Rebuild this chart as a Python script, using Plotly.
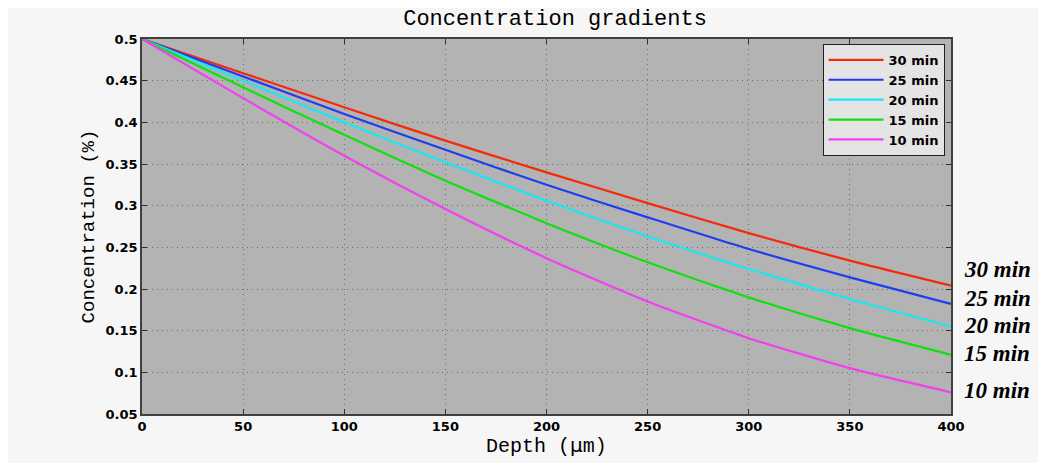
import plotly.graph_objects as go

depth = [0, 50, 100, 150, 200, 250, 300, 350, 400]
c30 = [0.500, 0.459, 0.418, 0.378, 0.340, 0.303, 0.267, 0.234, 0.204]
c25 = [0.500, 0.455, 0.410, 0.367, 0.325, 0.286, 0.248, 0.214, 0.182]
c20 = [0.500, 0.450, 0.400, 0.352, 0.306, 0.263, 0.224, 0.188, 0.155]
c15 = [0.500, 0.442, 0.385, 0.330, 0.279, 0.232, 0.190, 0.153, 0.121]
c10 = [0.500, 0.429, 0.360, 0.296, 0.237, 0.185, 0.141, 0.105, 0.076]

names = ["30 min", "25 min", "20 min", "15 min", "10 min"]
series = [c30, c25, c20, c15, c10]
colors = ["#f52a0a", "#1f3df0", "#18e8f0", "#10e010", "#f040f0"]
label_y = [0.223, 0.189, 0.156, 0.123, 0.078]

xticks = [0, 50, 100, 150, 200, 250, 300, 350, 400]
yticks = [0.05, 0.1, 0.15, 0.2, 0.25, 0.3, 0.35, 0.4, 0.45, 0.5]
ytick_text = ["0.05", "0.1", "0.15", "0.2", "0.25", "0.3", "0.35", "0.4", "0.45", "0.5"]

fig = go.Figure()
for n, s, c in zip(names, series, colors):
    fig.add_trace(go.Scatter(x=depth, y=s, name=n, mode="lines",
                             line=dict(color=c, width=2.2, shape="spline", smoothing=0.6)))

for n, yv in zip(names, label_y):
    fig.add_annotation(x=1.013, xref="paper", y=yv, yref="y", text=n, showarrow=False,
                       xanchor="left", yanchor="middle",
                       font=dict(family="Liberation Serif", size=23, color="black",
                                 style="italic", weight="bold"))

fig.add_annotation(x=0.5, xref="paper", y=-0.046, yref="paper",
                   text="Depth (<span style='font-family:DejaVu Sans'>μ</span>m)",
                   showarrow=False, xanchor="center", yanchor="top",
                   font=dict(family="Liberation Mono", size=20, color="black"))

axis_common = dict(showline=True, linecolor="#404040", linewidth=1.5, mirror="ticks",
                   ticks="inside", ticklen=5, tickcolor="#303030",
                   showgrid=True, gridcolor="#6e6e6e", griddash="1px,4px", gridwidth=1,
                   zeroline=False,
                   tickfont=dict(family="DejaVu Sans", size=13, color="black", weight="bold"))

fig.update_xaxes(range=[0, 400], tickvals=xticks, ticklabelstandoff=0, **axis_common)
fig.update_yaxes(range=[0.05, 0.5], tickvals=yticks, ticktext=ytick_text,
                 title=dict(text="Concentration (%)",
                            font=dict(family="Liberation Mono", size=19, color="black"), standoff=6),
                 **axis_common)

fig.update_layout(
    width=1046, height=463,
    margin=dict(l=134, r=103, t=31, b=57),
    paper_bgcolor="#f6f6f6", plot_bgcolor="#b3b3b3",
    title=dict(text="Concentration gradients", x=0.523, xanchor="center", y=0.979, yanchor="middle",
               font=dict(family="Liberation Mono", size=22, color="black")),
    showlegend=True,
    legend=dict(x=0.992, xanchor="right", y=0.987, yanchor="top",
                bgcolor="#e4e4e4", bordercolor="#202020", borderwidth=1,
                font=dict(family="DejaVu Sans", size=13, color="black", weight="bold"),
                tracegroupgap=0, itemwidth=55),
)

fig.write_html("out.html")
